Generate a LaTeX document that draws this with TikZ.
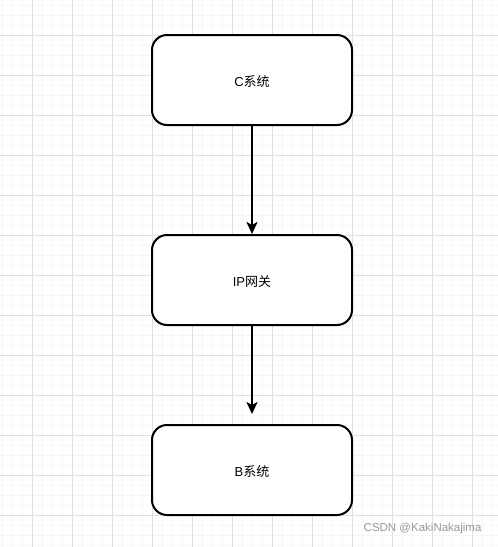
\documentclass[tikz,border=0pt]{standalone}
\usepackage{fontspec}
\setmainfont{Liberation Sans}
\newfontfamily\cjk{Noto Sans CJK SC}
\usetikzlibrary{arrows.meta}
\definecolor{minorgrid}{HTML}{F6F6F6}
\definecolor{majorgrid}{HTML}{E0E0E0}
\definecolor{wm}{HTML}{9A9A9A}
\tikzset{
  box/.style={draw=black, line width=2pt, rounded corners=15pt, fill=white,
    minimum width=200pt, minimum height=90pt, inner sep=0pt, text height=13pt, text depth=0pt,
    font=\fontsize{13}{15}\selectfont},
  conn/.style={draw=black, line width=2pt, -{Stealth[length=12pt,width=11pt,inset=3pt]}}
}
\begin{document}
\begin{tikzpicture}[x=1pt,y=-1pt]
\useasboundingbox (0,0) rectangle (498,547);
\fill[white] (0,0) rectangle (498,547);
% minor grid
\foreach \x in {2,12,...,492} \draw[minorgrid, line width=1pt] (\x,0) -- (\x,547);
\foreach \y in {5,15,...,545} \draw[minorgrid, line width=1pt] (0,\y) -- (498,\y);
% major grid
\foreach \x in {32,72,...,492} \draw[majorgrid, line width=1pt] (\x,0) -- (\x,547);
\foreach \y in {35,75,...,535} \draw[majorgrid, line width=1pt] (0,\y) -- (498,\y);
\node[box] (c) at (252,80) {C{\cjk 系统}};
\node[box] (ip) at (252,280) {IP{\cjk 网关}};
\node[box] (b) at (252,470) {B{\cjk 系统}};
\coordinate (tip2) at (252,414);
\draw[conn] (c.south) -- (ip.north);
\draw[conn] (ip.south) -- (tip2);
\node[text=wm, font=\fontsize{11.5}{13}\selectfont, anchor=east] (wmark) at (485,529) {CSDN @KakiNakajima};
\end{tikzpicture}
\end{document}
